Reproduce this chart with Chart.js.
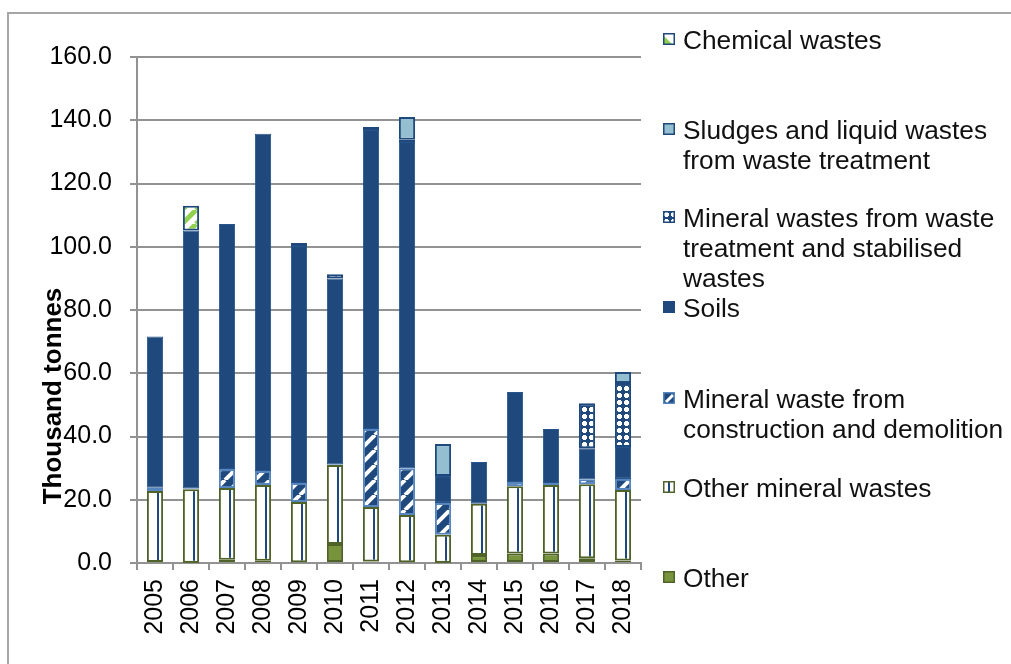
<!DOCTYPE html>
<html>
<head>
<meta charset="utf-8">
<title>Waste by category</title>
<script src="https://cdn.jsdelivr.net/npm/chart.js@4"></script>
<style>
  html, body { margin: 0; padding: 0; background: #fff; overflow: hidden; }
  #wrap { position: relative; width: 1011px; height: 664px; overflow: hidden; }
  #frame { position: absolute; left: 7px; top: 12px; width: 1100px; height: 700px;
           border-left: 2px solid #a6a6a6; border-top: 2px solid #a6a6a6; }
  #chartBox { position: absolute; left: 0; top: 0; width: 1011px; height: 664px; }
  .legend-item { position: absolute; left: 663px; font-family: "Liberation Sans", Arial, sans-serif;
                 font-size: 26.3px; line-height: 30px; color: #111; white-space: nowrap; }
  .legend-item canvas { position: absolute; left: 0; top: 8px; }
  .legend-item .txt { position: absolute; left: 20px; top: 0; }
</style>
</head>
<body>
<div id="wrap">
  <div id="frame"></div>
  <div id="chartBox"><canvas id="wasteChart"></canvas></div>
  <div id="legend"></div>
</div>
<script>
// ------------------- Data -------------------
const years = ["2005", "2006", "2007", "2008", "2009", "2010", "2011",
               "2012", "2013", "2014", "2015", "2016", "2017", "2018"];

const other        = [0.3, 0.1, 1.0, 0.7, 0.2, 6.0, 0.5, 0.2, 0.1, 2.5, 3.0, 3.0, 1.5, 0.8];
const otherMineral = [22.5, 23.2, 22.7, 24.0, 19.1, 25.0, 17.2, 15.0, 8.8, 16.2, 21.3, 21.7, 23.4, 22.3];
const constrDemol  = [1.0, 0.3, 6.0, 4.4, 6.0, 0.2, 24.7, 14.8, 10.1, 0.0, 1.3, 0.6, 1.6, 3.5];
const soils        = [47.8, 81.5, 77.5, 106.6, 74.9, 58.8, 94.5, 103.1, 8.5, 13.2, 28.5, 17.1, 9.8, 10.1];
const mineralTreat = [0, 0, 0, 0, 1.0, 1.3, 1.0, 0.7, 0, 0, 0, 0, 14.2, 20.2];
const sludges      = [0, 0, 0, 0, 0, 0, 0, 7.2, 10.1, 0, 0, 0, 0, 3.5];
const chemical     = [0, 7.9, 0, 0, 0, 0, 0, 0, 0, 0, 0, 0, 0, 0];

const yTicks = [0, 20, 40, 60, 80, 100, 120, 140, 160];

// ------------------- Colours & patterns -------------------
const BLUE = "#1f497d";
const LIGHT_BLUE = "#5685c0";
const OLIVE = "#77933c";
const OLIVE_DARK = "#4f6228";
const SLUDGE = "#93bfd0";
const LIME = "#92d050";
const FONT = "'Liberation Sans', Arial, sans-serif";

function makePattern(w, h, draw) {
  const c = document.createElement("canvas");
  c.width = w; c.height = h;
  const g = c.getContext("2d");
  draw(g, w, h);
  return g.createPattern(c, "repeat");
}

function diagonal(bg, fg, size, width) {
  return makePattern(size, size, (g, s) => {
    g.fillStyle = bg; g.fillRect(0, 0, s, s);
    g.strokeStyle = fg; g.lineWidth = width;
    for (const k of [-1, 0, 1]) {
      g.beginPath(); g.moveTo(k * s, s); g.lineTo(k * s + s, 0); g.stroke();
    }
  });
}

const demolPattern = diagonal(BLUE, "#ffffff", 15, 4);
const chemPattern = diagonal("#ffffff", LIME, 14, 5);
// white crosses on blue
const dotPattern = makePattern(7, 7, (g) => {
  g.fillStyle = BLUE; g.fillRect(0, 0, 7, 7);
  g.fillStyle = "#ffffff";
  g.fillRect(1, 2, 5, 3); g.fillRect(2, 1, 3, 5);
});

// white with one blue vertical stripe, lined up with each bar
const stripeCache = {};
function otherMineralFill(ctx) {
  const chart = ctx.chart;
  if (ctx.type !== "data" || !chart.scales || !chart.scales.x) return "#ffffff";
  const cx = Math.round(chart.scales.x.getPixelForValue(ctx.dataIndex));
  if (!stripeCache[cx]) {
    const p = makePattern(40, 4, (g) => {
      g.fillStyle = "#ffffff"; g.fillRect(0, 0, 40, 4);
      g.fillStyle = BLUE; g.fillRect(22, 0, 2, 4);
    });
    p.setTransform(new DOMMatrix().translate(cx - 20, 0));
    stripeCache[cx] = p;
  }
  return stripeCache[cx];
}

// ------------------- Chart -------------------
const yTitle = {
  id: "yTitle",
  afterDraw(chart) {
    const c = chart.ctx;
    c.save();
    c.translate(54, 396);
    c.rotate(-Math.PI / 2);
    c.font = "bold 26px " + FONT;
    c.fillStyle = "#000";
    c.textAlign = "center";
    c.textBaseline = "middle";
    c.fillText("Thousand tonnes", 0, 0);
    c.restore();
  }
};

new Chart(document.getElementById("wasteChart"), {
  type: "bar",
  data: {
    labels: years,
    datasets: [
      { label: "Other", data: other, backgroundColor: OLIVE, borderColor: OLIVE_DARK, borderWidth: 2 },
      { label: "Other mineral wastes", data: otherMineral, backgroundColor: otherMineralFill, borderColor: OLIVE_DARK, borderWidth: 2 },
      { label: "Mineral waste from construction and demolition", data: constrDemol, backgroundColor: demolPattern, borderColor: LIGHT_BLUE, borderWidth: 2 },
      { label: "Soils", data: soils, backgroundColor: BLUE, borderColor: "#26548c", borderWidth: 1 },
      { label: "Mineral wastes from waste treatment and stabilised wastes", data: mineralTreat, backgroundColor: dotPattern, borderColor: BLUE, borderWidth: 2 },
      { label: "Sludges and liquid wastes from waste treatment", data: sludges, backgroundColor: SLUDGE, borderColor: BLUE, borderWidth: 2 },
      { label: "Chemical wastes", data: chemical, backgroundColor: chemPattern, borderColor: BLUE, borderWidth: 2 }
    ]
  },
  options: {
    responsive: true,
    maintainAspectRatio: false,
    animation: false,
    layout: { padding: { top: 57, right: 370, left: 0, bottom: 0 } },
    datasets: { bar: { categoryPercentage: 1, barPercentage: 0.45, borderSkipped: false } },
    plugins: { legend: { display: false }, tooltip: { enabled: false } },
    scales: {
      x: {
        stacked: true,
        grid: { drawOnChartArea: false, color: "#929292", lineWidth: 2, tickLength: 7, offset: true },
        border: { color: "#929292", width: 2 },
        ticks: { minRotation: 90, maxRotation: 90, autoSkip: false, padding: 9, color: "#000",
                 font: { family: FONT, size: 25 } },
        afterFit: (s) => { s.height = 101; }
      },
      y: {
        stacked: true,
        min: 0,
        max: 160,
        afterBuildTicks: (s) => { s.ticks = yTicks.map((v) => ({ value: v })); },
        grid: { color: "#929292", lineWidth: 2, tickLength: 7 },
        border: { color: "#929292", width: 2 },
        ticks: { padding: 18, color: "#000", font: { family: FONT, size: 25 },
                 callback: (v) => Number(v).toFixed(1) },
        afterFit: (s) => { s.width = 137; }
      }
    }
  },
  plugins: [yTitle]
});

// ------------------- Legend -------------------
const legendItems = [
  { lines: ["Chemical wastes"], y: 40, fill: "chem", border: BLUE },
  { lines: ["Sludges and liquid wastes", "from waste treatment"], y: 130, fill: SLUDGE, border: BLUE },
  { lines: ["Mineral wastes from waste", "treatment and stabilised", "wastes"], y: 218, fill: "dots", border: BLUE },
  { lines: ["Soils"], y: 308, fill: BLUE, border: BLUE },
  { lines: ["Mineral waste from", "construction and demolition"], y: 399, fill: "demol", border: LIGHT_BLUE },
  { lines: ["Other mineral wastes"], y: 488, fill: "stripe", border: OLIVE_DARK },
  { lines: ["Other"], y: 578, fill: OLIVE, border: OLIVE_DARK }
];

function drawMarker(cv, item) {
  const g = cv.getContext("2d");
  if (item.fill === "chem") {
    g.fillStyle = "#fff"; g.fillRect(0, 0, 12, 12);
    g.fillStyle = LIME; g.beginPath(); g.moveTo(1, 11); g.lineTo(1, 3); g.lineTo(9, 11); g.fill();
  } else if (item.fill === "dots") {
    g.fillStyle = dotPattern; g.fillRect(0, 0, 12, 12);
  } else if (item.fill === "demol") {
    g.fillStyle = BLUE; g.fillRect(0, 0, 12, 12);
    g.strokeStyle = "#fff"; g.lineWidth = 3;
    g.beginPath(); g.moveTo(3, 10); g.lineTo(10, 3); g.stroke();
  } else if (item.fill === "stripe") {
    g.fillStyle = "#fff"; g.fillRect(0, 0, 12, 12);
    g.fillStyle = BLUE; g.fillRect(5, 0, 2, 12);
  } else {
    g.fillStyle = item.fill; g.fillRect(0, 0, 12, 12);
  }
  g.strokeStyle = item.border; g.lineWidth = 1.5;
  g.strokeRect(0.75, 0.75, 10.5, 10.5);
}

const legendBox = document.getElementById("legend");
legendItems.forEach((item) => {
  const div = document.createElement("div");
  div.className = "legend-item";
  div.style.top = (item.y - 15) + "px";
  const cv = document.createElement("canvas");
  cv.width = 12; cv.height = 12;
  drawMarker(cv, item);
  const txt = document.createElement("div");
  txt.className = "txt";
  txt.innerHTML = item.lines.join("<br>");
  div.appendChild(cv);
  div.appendChild(txt);
  legendBox.appendChild(div);
});
</script>
</body>
</html>
